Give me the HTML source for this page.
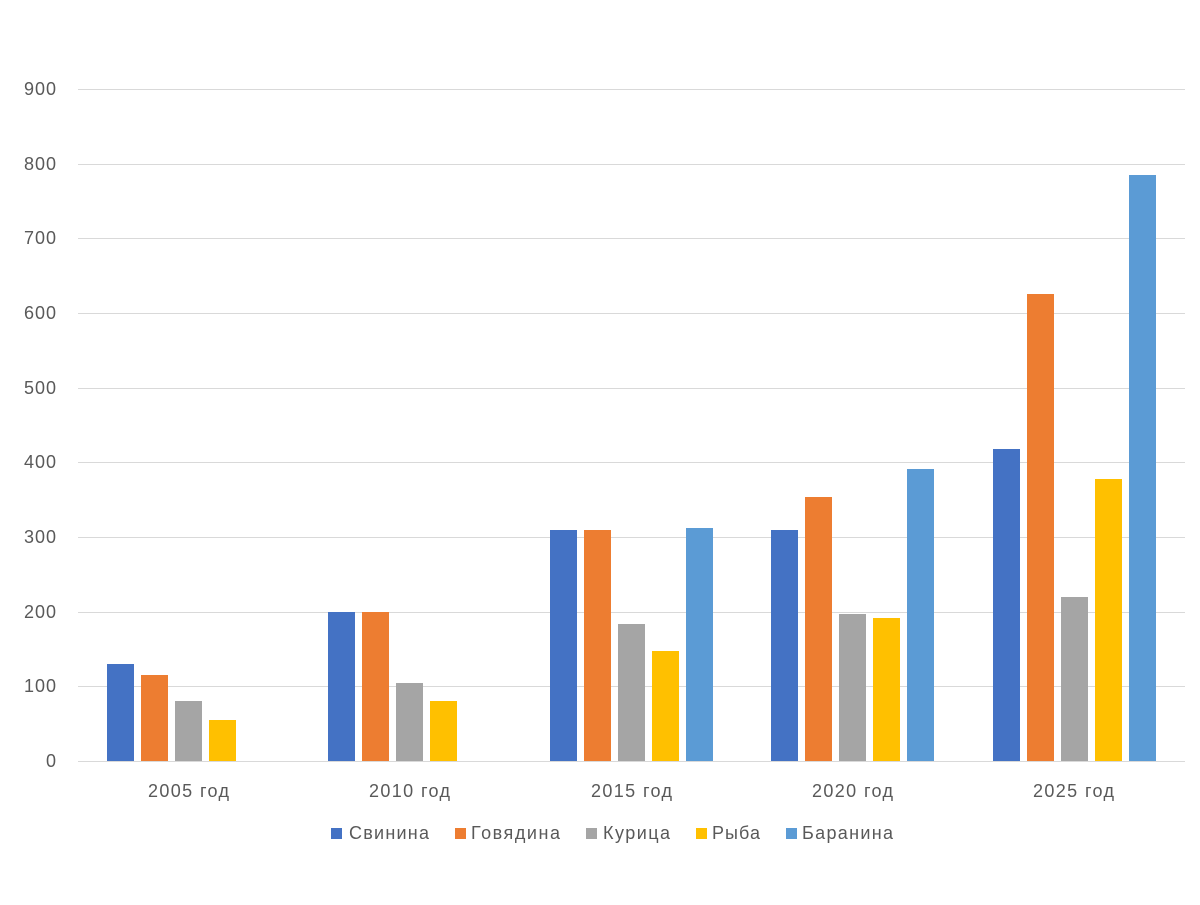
<!DOCTYPE html>
<html><head><meta charset="utf-8"><style>
body{margin:0;background:#fff;}
svg text{font-family:"Liberation Sans","DejaVu Sans",sans-serif;fill:#595959;}
</style></head><body>
<svg width="1200" height="900" xmlns="http://www.w3.org/2000/svg">
<rect width="1200" height="900" fill="#fff"/>
<g stroke="#d9d9d9" stroke-width="1">
<line x1="78" x2="1185" y1="89.5" y2="89.5"/>
<line x1="78" x2="1185" y1="164.5" y2="164.5"/>
<line x1="78" x2="1185" y1="238.5" y2="238.5"/>
<line x1="78" x2="1185" y1="313.5" y2="313.5"/>
<line x1="78" x2="1185" y1="388.5" y2="388.5"/>
<line x1="78" x2="1185" y1="462.5" y2="462.5"/>
<line x1="78" x2="1185" y1="537.5" y2="537.5"/>
<line x1="78" x2="1185" y1="612.5" y2="612.5"/>
<line x1="78" x2="1185" y1="686.5" y2="686.5"/>
<line x1="78" x2="1185" y1="761.5" y2="761.5"/>
</g>
<g font-size="18" text-anchor="end" letter-spacing="1">
<text x="57" y="767">0</text>
<text x="57" y="692">100</text>
<text x="57" y="618">200</text>
<text x="57" y="543">300</text>
<text x="57" y="468">400</text>
<text x="57" y="394">500</text>
<text x="57" y="319">600</text>
<text x="57" y="244">700</text>
<text x="57" y="170">800</text>
<text x="57" y="95">900</text>
</g>
<g font-size="18">
<text x="148" y="797" textLength="81" lengthAdjust="spacing">2005 год</text>
<text x="369" y="797" textLength="81" lengthAdjust="spacing">2010 год</text>
<text x="591" y="797" textLength="81" lengthAdjust="spacing">2015 год</text>
<text x="812" y="797" textLength="81" lengthAdjust="spacing">2020 год</text>
<text x="1033" y="797" textLength="81" lengthAdjust="spacing">2025 год</text>
</g>
<g font-size="18">
<rect x="331" y="828" width="11" height="11" fill="#4472C4"/><text x="349" y="839" textLength="80" lengthAdjust="spacing">Свинина</text>
<rect x="455" y="828" width="11" height="11" fill="#ED7D31"/><text x="471" y="839" textLength="89" lengthAdjust="spacing">Говядина</text>
<rect x="586" y="828" width="11" height="11" fill="#A5A5A5"/><text x="603" y="839" textLength="67" lengthAdjust="spacing">Курица</text>
<rect x="696" y="828" width="11" height="11" fill="#FFC000"/><text x="712" y="839" textLength="48" lengthAdjust="spacing">Рыба</text>
<rect x="786" y="828" width="11" height="11" fill="#5B9BD5"/><text x="802" y="839" textLength="91" lengthAdjust="spacing">Баранина</text>
</g>
<g>
<rect x="107" y="664" width="27" height="97" fill="#4472C4"/>
<rect x="141" y="675" width="27" height="86" fill="#ED7D31"/>
<rect x="175" y="701" width="27" height="60" fill="#A5A5A5"/>
<rect x="209" y="720" width="27" height="41" fill="#FFC000"/>

<rect x="328" y="612" width="27" height="149" fill="#4472C4"/>
<rect x="362" y="612" width="27" height="149" fill="#ED7D31"/>
<rect x="396" y="683" width="27" height="78" fill="#A5A5A5"/>
<rect x="430" y="701" width="27" height="60" fill="#FFC000"/>

<rect x="550" y="530" width="27" height="231" fill="#4472C4"/>
<rect x="584" y="530" width="27" height="231" fill="#ED7D31"/>
<rect x="618" y="624" width="27" height="137" fill="#A5A5A5"/>
<rect x="652" y="651" width="27" height="110" fill="#FFC000"/>
<rect x="686" y="528" width="27" height="233" fill="#5B9BD5"/>

<rect x="771" y="530" width="27" height="231" fill="#4472C4"/>
<rect x="805" y="497" width="27" height="264" fill="#ED7D31"/>
<rect x="839" y="614" width="27" height="147" fill="#A5A5A5"/>
<rect x="873" y="618" width="27" height="143" fill="#FFC000"/>
<rect x="907" y="469" width="27" height="292" fill="#5B9BD5"/>

<rect x="993" y="449" width="27" height="312" fill="#4472C4"/>
<rect x="1027" y="294" width="27" height="467" fill="#ED7D31"/>
<rect x="1061" y="597" width="27" height="164" fill="#A5A5A5"/>
<rect x="1095" y="479" width="27" height="282" fill="#FFC000"/>
<rect x="1129" y="175" width="27" height="586" fill="#5B9BD5"/>
</g>
</svg>
</body></html>
